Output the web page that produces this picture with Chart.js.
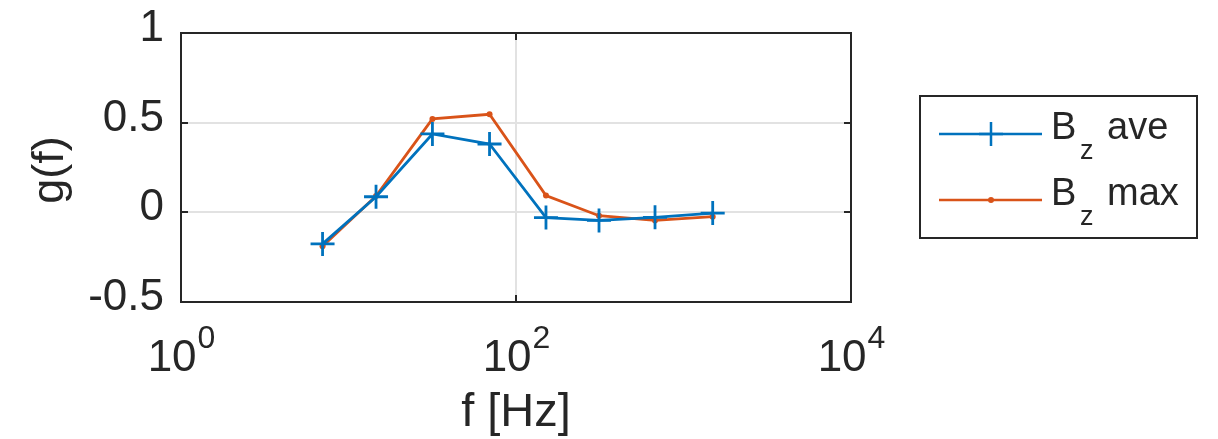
<!DOCTYPE html>
<html>
<head>
<meta charset="utf-8">
<script src="https://cdn.jsdelivr.net/npm/chart.js@4/dist/chart.umd.min.js"></script>
<style>
  html, body { margin: 0; padding: 0; background: #fff; }
  #wrap { width: 1218px; height: 439px; }
</style>
</head>
<body>
<div id="wrap"><canvas id="c" width="1218" height="439"></canvas></div>
<script>
// Frequencies of the measurement bands [Hz]
const freqs = [7.0, 14.6, 31.7, 69.5, 151, 313, 676, 1494];
// g(f) for the averaged and the maximum Bz component
const bzAve = [-0.176, 0.087, 0.437, 0.381, -0.029, -0.045, -0.028, -0.004];
const bzMax = [-0.189, 0.091, 0.521, 0.547, 0.094, -0.019, -0.045, -0.024];
// Axis ticks
const xTicks = [1, 100, 10000];
const yTicks = [-0.5, 0, 0.5, 1];
const seriesNames = ['ave', 'max'];

const BLUE = '#0072BD';
const ORANGE = '#D95319';
const INK = '#262626';
const GRID = '#e2e2e2';
const FONT = '"Liberation Sans", Arial, Helvetica, sans-serif';

const LEFT = 181, RIGHT = 851, TOP = 33, BOTTOM = 302;
const W = 1218, H = 439;

// Frame, inner tick marks, x tick labels with exponents, axis titles, legend
const decorations = {
  id: 'decorations',
  afterDraw(chart) {
    const ctx = chart.ctx;
    const xs = chart.scales.x, ys = chart.scales.y;
    const a = chart.chartArea;
    ctx.save();

    // box
    ctx.strokeStyle = INK;
    ctx.lineWidth = 2;
    ctx.strokeRect(a.left, a.top, a.right - a.left, a.bottom - a.top);

    // inner tick marks
    const tl = 7;
    ctx.beginPath();
    xs.ticks.forEach(t => {
      const px = Math.round(xs.getPixelForValue(t.value));
      ctx.moveTo(px, a.bottom); ctx.lineTo(px, a.bottom - tl);
      ctx.moveTo(px, a.top); ctx.lineTo(px, a.top + tl);
    });
    ys.ticks.forEach(t => {
      const py = Math.round(ys.getPixelForValue(t.value));
      ctx.moveTo(a.left, py); ctx.lineTo(a.left + tl, py);
      ctx.moveTo(a.right, py); ctx.lineTo(a.right - tl, py);
    });
    ctx.stroke();

    // x tick labels: 10^n
    ctx.fillStyle = INK;
    ctx.textBaseline = 'alphabetic';
    ctx.textAlign = 'left';
    const baseFont = '44px ' + FONT, expFont = '32px ' + FONT;
    xs.ticks.forEach(t => {
      const px = xs.getPixelForValue(t.value);
      const e = String(Math.round(Math.log10(t.value)));
      ctx.font = baseFont;
      const wb = ctx.measureText('10').width;
      ctx.font = expFont;
      const we = ctx.measureText(e).width;
      const x0 = px - (wb + we) / 2;
      ctx.font = baseFont;
      ctx.fillText('10', x0, 371);
      ctx.font = expFont;
      ctx.fillText(e, x0 + wb + 1, 348);
    });

    // axis titles
    ctx.font = '47px ' + FONT;
    ctx.textAlign = 'center';
    ctx.fillText('f [Hz]', (a.left + a.right) / 2, 426);
    ctx.save();
    ctx.translate(63, 170);
    ctx.rotate(-Math.PI / 2);
    ctx.font = '45px ' + FONT;
    ctx.fillText('g(f)', 0, 0);
    ctx.restore();

    // legend
    const bx = 920, by = 96, bw = 277, bh = 142;
    ctx.fillStyle = '#fff';
    ctx.fillRect(bx, by, bw, bh);
    ctx.strokeStyle = INK;
    ctx.lineWidth = 2;
    ctx.strokeRect(bx, by, bw, bh);
    const rows = [
      { color: BLUE, style: 'cross', y: 134, name: seriesNames[0] },
      { color: ORANGE, style: 'dot', y: 200, name: seriesNames[1] }
    ];
    rows.forEach(r => {
      ctx.strokeStyle = r.color;
      ctx.lineWidth = 2.5;
      ctx.beginPath();
      ctx.moveTo(939, r.y); ctx.lineTo(1042, r.y);
      ctx.stroke();
      if (r.style === 'cross') {
        ctx.beginPath();
        ctx.moveTo(991 - 12, r.y); ctx.lineTo(991 + 12, r.y);
        ctx.moveTo(991, r.y - 12); ctx.lineTo(991, r.y + 12);
        ctx.stroke();
      } else {
        ctx.fillStyle = r.color;
        ctx.beginPath();
        ctx.arc(991, r.y, 3, 0, Math.PI * 2);
        ctx.fill();
      }
      ctx.fillStyle = INK;
      ctx.textAlign = 'left';
      ctx.font = '38px ' + FONT;
      ctx.fillText('B', 1051, r.y + 5);
      ctx.font = '27px ' + FONT;
      ctx.fillText('z', 1080, r.y + 25);
      ctx.font = '38px ' + FONT;
      ctx.fillText(r.name, 1107, r.y + 5);
    });

    ctx.restore();
  }
};

new Chart(document.getElementById('c'), {
  type: 'line',
  data: {
    datasets: [
      {
        label: 'Bz ave',
        data: freqs.map((f, i) => ({ x: f, y: bzAve[i] })),
        borderColor: BLUE,
        backgroundColor: BLUE,
        borderWidth: 2.8,
        pointStyle: 'cross',
        pointRadius: 12,
        pointBorderWidth: 2.8,
        pointHoverRadius: 12,
        tension: 0
      },
      {
        label: 'Bz max',
        data: freqs.map((f, i) => ({ x: f, y: bzMax[i] })),
        borderColor: ORANGE,
        backgroundColor: ORANGE,
        borderWidth: 2.8,
        pointStyle: 'circle',
        pointRadius: 3,
        pointBorderWidth: 0,
        pointHoverRadius: 3,
        tension: 0
      }
    ]
  },
  options: {
    responsive: false,
    animation: false,
    devicePixelRatio: 1,
    layout: { padding: { left: 0, top: TOP, right: W - RIGHT, bottom: 0 } },
    plugins: { legend: { display: false }, tooltip: { enabled: false } },
    scales: {
      x: {
        type: 'logarithmic',
        min: 1,
        max: 10000,
        afterBuildTicks: s => { s.ticks = xTicks.map(v => ({ value: v })); },
        afterFit: s => {
          s.height = H - BOTTOM;
          s.paddingLeft = 0; s.paddingRight = 0;
        },
        border: { display: false },
        grid: {
          drawTicks: false,
          lineWidth: 2,
          color: c => (c.tick && c.tick.value > 1 && c.tick.value < 10000) ? GRID : 'rgba(0,0,0,0)'
        },
        ticks: { display: false }
      },
      y: {
        type: 'linear',
        min: -0.5,
        max: 1,
        afterBuildTicks: s => { s.ticks = yTicks.map(v => ({ value: v })); },
        afterFit: s => {
          s.width = LEFT;
          s.paddingTop = 0; s.paddingBottom = 0;
        },
        border: { display: false },
        grid: {
          drawTicks: false,
          lineWidth: 2,
          color: c => (c.tick && c.tick.value > -0.5 && c.tick.value < 1) ? GRID : 'rgba(0,0,0,0)'
        },
        ticks: {
          padding: 17,
          labelOffset: -4,
          color: INK,
          font: { family: FONT, size: 44 },
          callback: v => String(v)
        }
      }
    }
  },
  plugins: [decorations]
});
</script>
</body>
</html>
